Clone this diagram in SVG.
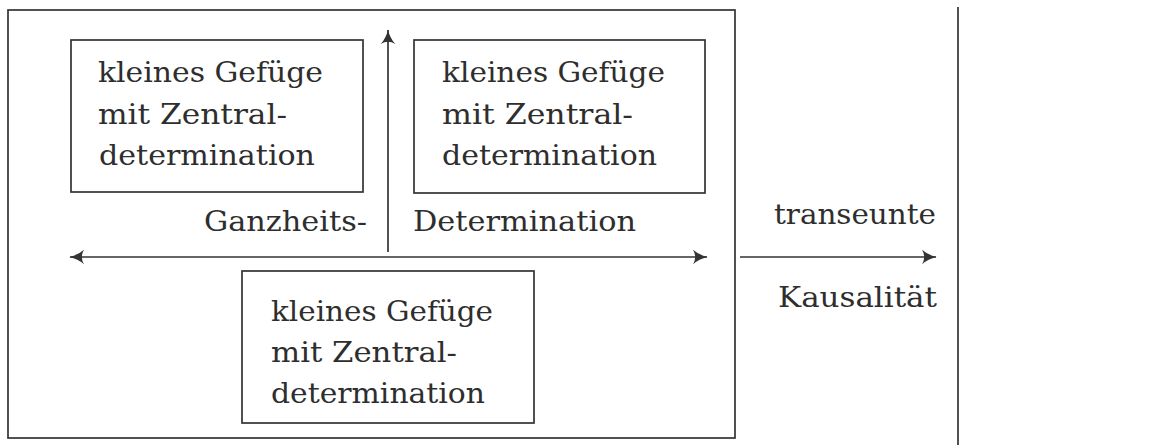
<svg xmlns="http://www.w3.org/2000/svg" width="1169" height="445" viewBox="0 0 1169 445">
<defs>
<style>
.ln{fill:none;stroke:#333;stroke-width:1.7}
.box{fill:none;stroke:#333;stroke-width:1.7}
.t{font-family:"DejaVu Serif","Liberation Serif",serif;font-size:28.5px;fill:#2e2e2e}
</style>
<marker id="ah" viewBox="0 0 14 14" refX="12.5" refY="7" markerWidth="17" markerHeight="17" markerUnits="userSpaceOnUse" orient="auto-start-reverse">
<path d="M1,1 Q6,5.5 13,7 Q6,8.5 1,13 Q4.5,7 1,1 Z" fill="#333"/>
</marker>
</defs>
<rect width="1169" height="445" fill="#fff"/>
<g id="frame">
<rect class="box" x="8" y="10" width="727" height="428"/>
<line class="ln" x1="958" y1="7" x2="958" y2="445"/>
</g>
<g id="box1">
<rect class="box" x="71" y="40" width="292" height="152"/>
<text class="t" x="98" y="82" textLength="225" lengthAdjust="spacingAndGlyphs">kleines Gefüge</text>
<text class="t" x="98" y="124" textLength="189" lengthAdjust="spacingAndGlyphs">mit Zentral-</text>
<text class="t" x="99" y="165" textLength="216" lengthAdjust="spacingAndGlyphs">determination</text>
</g>
<g id="box2">
<rect class="box" x="414" y="40" width="291" height="153"/>
<text class="t" x="442" y="82" textLength="223" lengthAdjust="spacingAndGlyphs">kleines Gefüge</text>
<text class="t" x="442" y="124" textLength="191" lengthAdjust="spacingAndGlyphs">mit Zentral-</text>
<text class="t" x="442" y="165" textLength="215" lengthAdjust="spacingAndGlyphs">determination</text>
</g>
<g id="box3">
<rect class="box" x="242" y="271" width="292" height="152"/>
<text class="t" x="271" y="321" textLength="222" lengthAdjust="spacingAndGlyphs">kleines Gefüge</text>
<text class="t" x="271" y="362" textLength="186" lengthAdjust="spacingAndGlyphs">mit Zentral-</text>
<text class="t" x="271" y="403" textLength="214" lengthAdjust="spacingAndGlyphs">determination</text>
</g>
<g id="connectors">
<line class="ln" x1="388" y1="252" x2="388" y2="30" marker-end="url(#ah)"/>
<line class="ln" x1="70" y1="257" x2="707" y2="257" marker-start="url(#ah)" marker-end="url(#ah)"/>
<line class="ln" x1="740" y1="257" x2="936" y2="257" marker-end="url(#ah)"/>
</g>
<g id="labels">
<text class="t" x="204" y="231" textLength="163" lengthAdjust="spacingAndGlyphs">Ganzheits-</text>
<text class="t" x="413" y="231" textLength="223" lengthAdjust="spacingAndGlyphs">Determination</text>
<text class="t" x="774" y="224" textLength="162" lengthAdjust="spacingAndGlyphs">transeunte</text>
<text class="t" x="778" y="307" textLength="159" lengthAdjust="spacingAndGlyphs">Kausalität</text>
</g>
</svg>
